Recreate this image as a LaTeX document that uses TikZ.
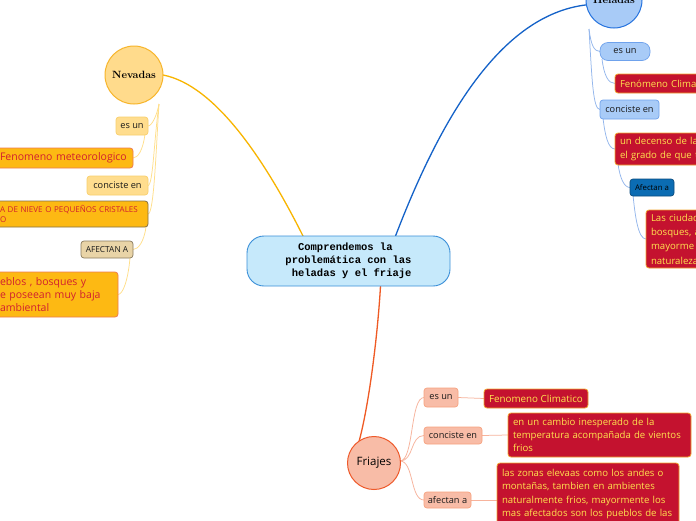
\documentclass[tikz,border=0pt]{standalone}
\usepackage{fontspec}
\newfontfamily\osans{Open Sans}
\newfontfamily\lmono{Liberation Mono}
\definecolor{cenF}{HTML}{C6E9FB}
\definecolor{cenB}{HTML}{3A8FD8}
\definecolor{nevF}{HTML}{FFDB8C}
\definecolor{nevB}{HTML}{F7B52B}
\definecolor{nevLine}{HTML}{F8B500}
\definecolor{nlabF}{HTML}{FFDD8E}
\definecolor{nlabB}{HTML}{F9CF6C}
\definecolor{ncontF}{HTML}{FDB913}
\definecolor{ncontB}{HTML}{EE7B4E}
\definecolor{nlongB}{HTML}{857045}
\definecolor{nafeF}{HTML}{E9D4A7}
\definecolor{nafeB}{HTML}{8A7B5E}
\definecolor{ntxt}{HTML}{D11F2F}
\definecolor{nconn}{HTML}{FFDF8A}
\definecolor{helF}{HTML}{A8CBF7}
\definecolor{helB}{HTML}{2673DE}
\definecolor{helLine}{HTML}{1462C8}
\definecolor{hlabB}{HTML}{6FA2EC}
\definecolor{crimF}{HTML}{C4122F}
\definecolor{crimB}{HTML}{F1A52E}
\definecolor{yel}{HTML}{FFE34F}
\definecolor{hafeF}{HTML}{0B6CB3}
\definecolor{hafeB}{HTML}{0A4C7E}
\definecolor{hconn}{HTML}{93B6EC}
\definecolor{friF}{HTML}{F8BCA7}
\definecolor{friB}{HTML}{EE5A2B}
\definecolor{friLine}{HTML}{EF5A24}
\definecolor{flabB}{HTML}{F7A27F}
\definecolor{fconn}{HTML}{F7B39C}
\definecolor{txtd}{HTML}{1A1A1A}
\pgfdeclarelayer{bg}
\pgfsetlayers{bg,main}
\begin{document}
\begin{tikzpicture}[x=1pt,y=-1pt,
  every node/.style={inner sep=0pt, outer sep=0pt},
  mainline/.style={line width=1.3pt},
  subline/.style={line width=0.75pt},
  lab/.style={rounded corners=3pt, line width=0.7pt, font=\osans\fontsize{9.2}{11}\selectfont, text=txtd},
  nlab/.style={lab, fill=nlabF, draw=nlabB},
  hlab/.style={lab, fill=helF, draw=hlabB},
  flab/.style={lab, fill=friF, draw=flabB},
  cbox/.style={rounded corners=3pt, line width=0.8pt, align=left, inner xsep=5pt},
  ncont/.style={cbox, fill=ncontF, draw=ncontB, text=ntxt},
  crim/.style={cbox, fill=crimF, draw=crimB, text=yel},
]
\useasboundingbox (0,0) rectangle (696,520);
\clip (0,0) rectangle (696,520);
\begin{pgfonlayer}{bg}
\fill[white] (0,0) rectangle (696,520);
\end{pgfonlayer}

% central
\node[draw=cenB, fill=cenF, line width=0.9pt, rounded corners=17pt, minimum width=203pt, minimum height=50pt, align=center, font=\lmono\bfseries\fontsize{10.5}{13}\selectfont, text=black] (cen) at (348.5,261) {Comprendemos la\hphantom{x}\\problemática con las\\\hphantom{x}heladas y el friaje};

% topics
\node[circle, draw=nevB, fill=nevF, line width=1pt, minimum size=58pt, font=\bfseries\fontsize{10.5}{12}\selectfont] (nev) at (134,75) {Nevadas};
\node[circle, draw=helB, fill=helF, line width=1pt, minimum size=56pt, font=\bfseries\fontsize{10.5}{12}\selectfont] (hel) at (614,0) {Heladas};
\node[circle, draw=friB, fill=friF, line width=1pt, minimum size=53pt, font=\osans\fontsize{11.5}{13}\selectfont, text=black] (fri) at (374,463) {Friajes};

% Nevadas branch
\node[nlab, minimum width=32pt, minimum height=18pt] (nes) at (132,126) {es un};
\node[ncont, anchor=east, text width=128pt, minimum height=20pt, font=\osans\fontsize{10.5}{12}\selectfont] (nfen) at (133,158) {\mbox{Fenomeno meteorologico}};
\node[nlab, minimum width=61pt, minimum height=19pt] (ncon) at (117.5,185.5) {conciste en};
\node[ncont, draw=nlongB, anchor=east, text width=143pt, minimum height=26pt, font=\osans\fontsize{8}{10}\selectfont] (nlong) at (148,214) {A DE NIEVE O PEQUEÑOS CRISTALES\\O};
\node[lab, fill=nafeF, draw=nafeB, minimum width=52pt, minimum height=17pt, font=\osans\fontsize{8.3}{10}\selectfont] (nafe) at (107,249.5) {AFECTAN A};
\node[ncont, anchor=east, text width=113pt, minimum height=45pt, font=\osans\fontsize{10.5}{13}\selectfont] (nbig) at (118,294.5) {eblos , bosques y\\e poseean muy baja\\ambiental};

% Heladas branch
\node[hlab, rounded corners=8pt, minimum width=50pt, minimum height=18pt] (hes) at (625,51.5) {es un};
\node[crim, anchor=west, text width=120pt, minimum height=19pt, font=\osans\fontsize{9.6}{12}\selectfont] (hfen) at (615,83.5) {Fenómeno Clima};
\node[hlab, minimum width=59pt, minimum height=19pt] (hcon) at (629.5,109.5) {conciste en};
\node[crim, anchor=west, text width=120pt, minimum height=32pt, font=\osans\fontsize{9.6}{14}\selectfont] (hdec) at (615,149) {un decenso de la\\el grado de que t};
\node[lab, fill=hafeF, draw=hafeB, minimum width=44pt, minimum height=17pt, font=\osans\fontsize{7.8}{9}\selectfont, text=black] (hafe) at (652,187.5) {Afectan a};
\node[crim, anchor=west, text width=120pt, minimum height=58pt, font=\osans\fontsize{9.6}{14.3}\selectfont] (hlas) at (646,239) {Las ciudad\\bosques, a\\mayorme\\naturaleza};

% Friajes branch
\node[flab, minimum width=34pt, minimum height=19pt] (fes) at (441,397.5) {es un};
\node[crim, minimum width=104pt, minimum height=19pt, font=\osans\fontsize{9.8}{12}\selectfont] (ffen) at (536,398.5) {Fenomeno Climatico};
\node[flab, minimum width=58pt, minimum height=17pt] (fcon) at (453,435.5) {conciste en};
\node[crim, text width=173pt, minimum height=44pt, font=\osans\fontsize{9.6}{13.3}\selectfont] (fcam) at (599.5,435) {en un cambio inesperado de la\\temperatura acompañada de vientos\\frios};
\node[flab, minimum width=47pt, minimum height=16pt] (fafe) at (447.5,500) {afectan a};
\node[crim, anchor=north west, text width=172pt, inner ysep=6.3pt, font=\osans\fontsize{9.6}{13.3}\selectfont] (fzon) at (497,463) {las zonas elevaas como los andes o\\montañas, tambien en ambientes\\naturalmente frios, mayormente los\\mas afectados son los pueblos de las};

\begin{pgfonlayer}{bg}
% main connectors
\draw[nevLine, mainline] (nev.east) .. controls (215,85) and (265,160) .. ([xshift=-45.5pt]cen.north);
\draw[helLine, mainline] ([xshift=47pt]cen.north) .. controls (440,120) and (500,15) .. (hel.190);
\draw[friLine, mainline] ([xshift=32pt]cen.south) .. controls (378,330) and (370,400) .. (fri.124);

% Nevadas sub connectors
\coordinate (nS) at (159,104);
\coordinate (nesA) at (145,134);
\coordinate (nlongA) at (146,227);
\coordinate (nafeA) at (130,258);
\draw[nconn, subline] (nS) .. controls (157,115) and (152,126) .. (nes.east);
\draw[nconn, subline] (nS) .. controls (154,140) and (153,185.5) .. (ncon.east);
\draw[nconn, subline] (nS) .. controls (156,150) and (154,214) .. (nlong.east);
\draw[nconn, subline] (nesA) .. controls (143,150) and (138,158) .. (nfen.east);
\draw[nconn, subline] (nlongA) .. controls (144,242) and (138,249.5) .. (nafe.east);
\draw[nconn, subline] (nafeA) .. controls (128,280) and (123,294.5) .. (nbig.east);

% Heladas sub connectors
\coordinate (hS) at (589,29);
\coordinate (hesA) at (602,59);
\coordinate (hconA) at (603,118);
\coordinate (hdecA) at (618,164);
\coordinate (hafeA) at (633,195);
\draw[hconn, subline] (hS) .. controls (591,45) and (594,51.5) .. (hes.west);
\draw[hconn, subline] (hS) .. controls (592,80) and (593,109.5) .. (hcon.west);
\draw[hconn, subline] (hesA) .. controls (604,75) and (608,83.5) .. (hfen.west);
\draw[hconn, subline] (hconA) .. controls (605,135) and (608,149) .. (hdec.west);
\draw[hconn, subline] (hdecA) .. controls (620,178) and (624,187.5) .. (hafe.west);
\draw[hconn, subline] (hafeA) .. controls (635,215) and (638,239) .. (hlas.west);

% Friajes sub connectors
\coordinate (fS) at (400,461);
\draw[fconn, subline] (fS) .. controls (414,461) and (410,397.5) .. (fes.west);
\draw[fconn, subline] (fS) .. controls (414,461) and (410,435.5) .. (fcon.west);
\draw[fconn, subline] (fS) .. controls (414,461) and (410,500) .. (fafe.west);
\draw[fconn, subline] (fes.east) -- (ffen.west);
\draw[fconn, subline] (fcon.east) -- (fcam.west);
\draw[fconn, subline] (fafe.east) -- (fafe.east -| fzon.west);
\end{pgfonlayer}
\end{tikzpicture}
\end{document}
